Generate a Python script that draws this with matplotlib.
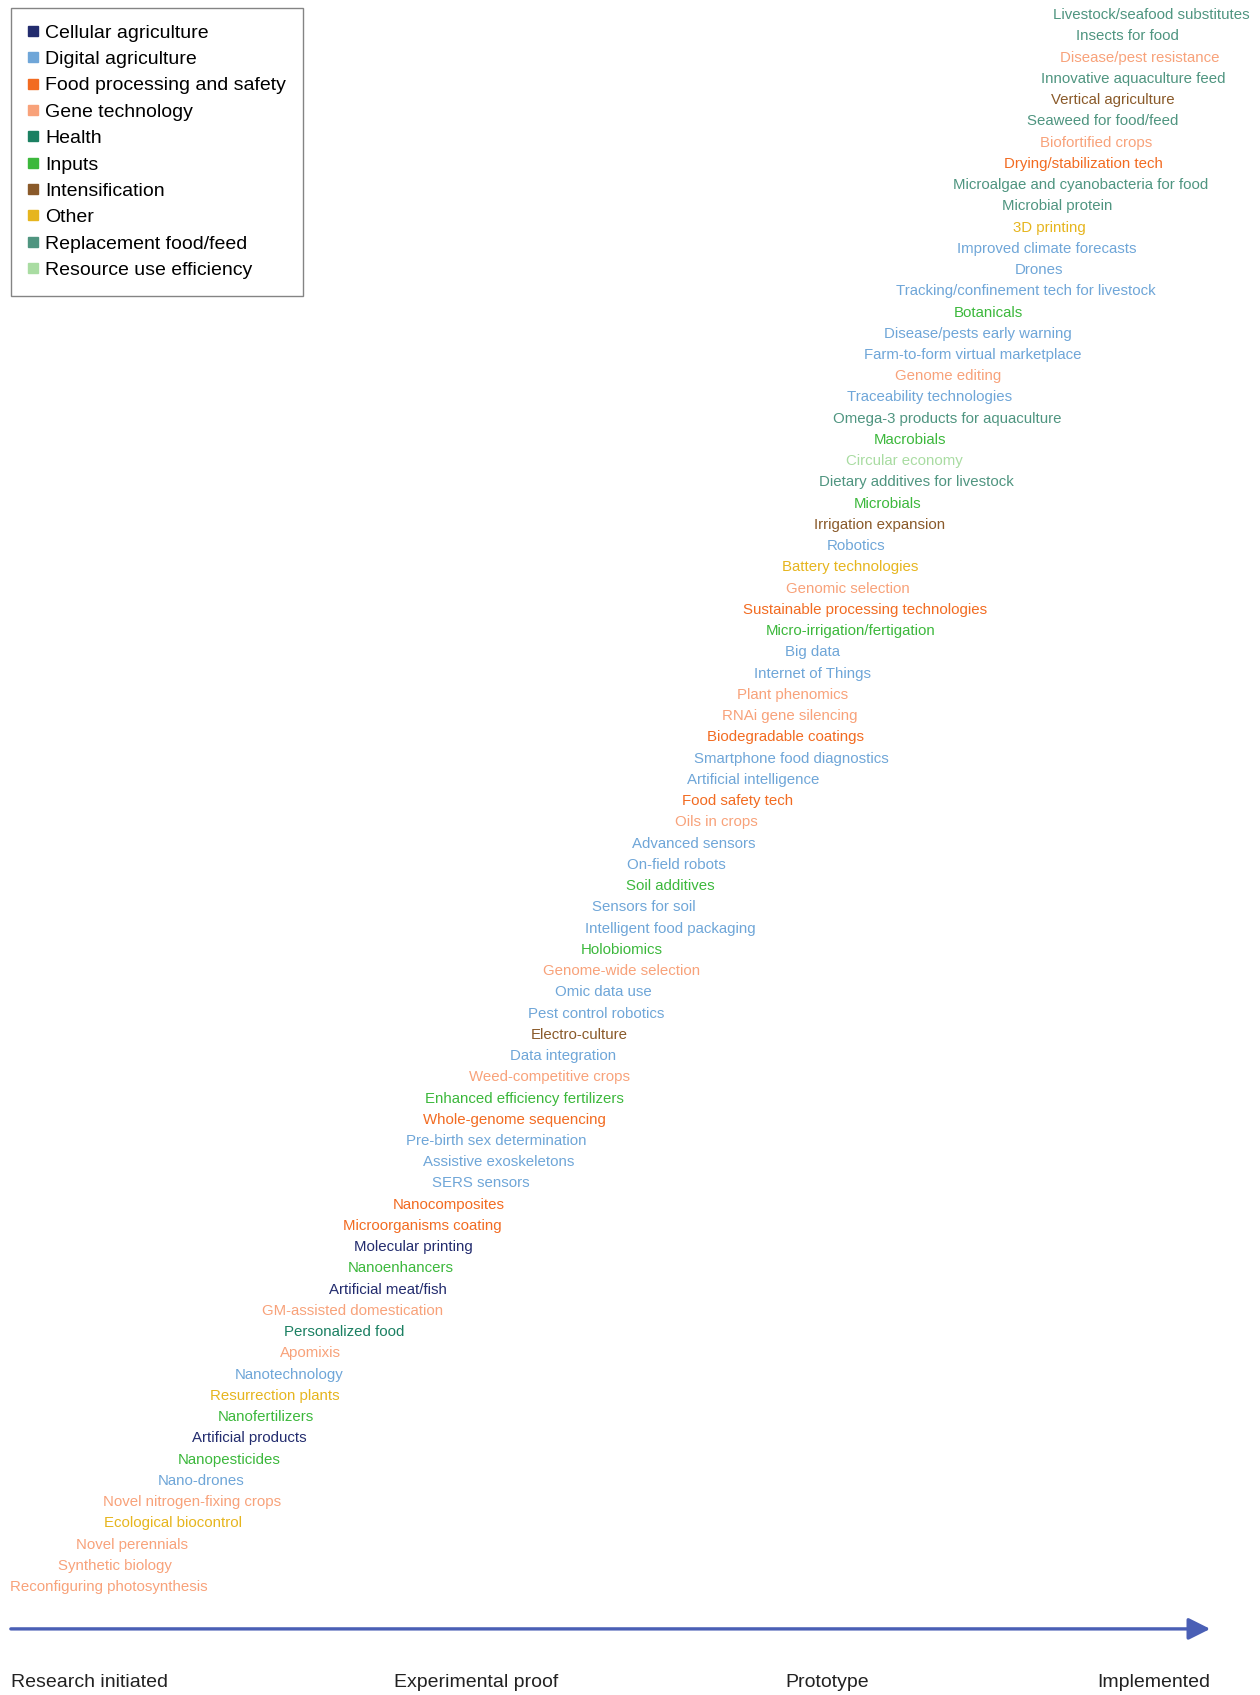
import matplotlib
matplotlib.use("Agg")
import matplotlib.pyplot as plt
from matplotlib.lines import Line2D

plt.rcParams['font.family'] = ['Liberation Sans', 'DejaVu Sans']

# categories and their colours (legend order)
categories = [
    "Cellular agriculture", "Digital agriculture", "Food processing and safety",
    "Gene technology", "Health", "Inputs", "Intensification", "Other",
    "Replacement food/feed", "Resource use efficiency",
]
category_colors = [
    "#232c6e", "#6fa6d8", "#f26b21", "#f8a27a", "#1b8062",
    "#3cb83c", "#8a5a2a", "#e6b51e", "#4f9580", "#a9dca2",
]

# technologies, top (most mature) to bottom
technologies = [
    "Livestock/seafood substitutes", "Insects for food", "Disease/pest resistance",
    "Innovative aquaculture feed", "Vertical agriculture", "Seaweed for food/feed",
    "Biofortified crops", "Drying/stabilization tech",
    "Microalgae and cyanobacteria for food", "Microbial protein", "3D printing",
    "Improved climate forecasts", "Drones", "Tracking/confinement tech for livestock",
    "Botanicals", "Disease/pests early warning", "Farm-to-form virtual marketplace",
    "Genome editing", "Traceability technologies", "Omega-3 products for aquaculture",
    "Macrobials", "Circular economy", "Dietary additives for livestock", "Microbials",
    "Irrigation expansion", "Robotics", "Battery technologies", "Genomic selection",
    "Sustainable processing technologies", "Micro-irrigation/fertigation", "Big data",
    "Internet of Things", "Plant phenomics", "RNAi gene silencing",
    "Biodegradable coatings", "Smartphone food diagnostics", "Artificial intelligence",
    "Food safety tech", "Oils in crops", "Advanced sensors", "On-field robots",
    "Soil additives", "Sensors for soil", "Intelligent food packaging", "Holobiomics",
    "Genome-wide selection", "Omic data use", "Pest control robotics", "Electro-culture",
    "Data integration", "Weed-competitive crops", "Enhanced efficiency fertilizers",
    "Whole-genome sequencing", "Pre-birth sex determination", "Assistive exoskeletons",
    "SERS sensors", "Nanocomposites", "Microorganisms coating", "Molecular printing",
    "Nanoenhancers", "Artificial meat/fish", "GM-assisted domestication",
    "Personalized food", "Apomixis", "Nanotechnology", "Resurrection plants",
    "Nanofertilizers", "Artificial products", "Nanopesticides", "Nano-drones",
    "Novel nitrogen-fixing crops", "Ecological biocontrol", "Novel perennials",
    "Synthetic biology", "Reconfiguring photosynthesis",
]

tech_category = [
    "Replacement food/feed", "Replacement food/feed", "Gene technology",
    "Replacement food/feed", "Intensification", "Replacement food/feed",
    "Gene technology", "Food processing and safety",
    "Replacement food/feed", "Replacement food/feed", "Other",
    "Digital agriculture", "Digital agriculture", "Digital agriculture",
    "Inputs", "Digital agriculture", "Digital agriculture",
    "Gene technology", "Digital agriculture", "Replacement food/feed",
    "Inputs", "Resource use efficiency", "Replacement food/feed", "Inputs",
    "Intensification", "Digital agriculture", "Other", "Gene technology",
    "Food processing and safety", "Inputs", "Digital agriculture",
    "Digital agriculture", "Gene technology", "Gene technology",
    "Food processing and safety", "Digital agriculture", "Digital agriculture",
    "Food processing and safety", "Gene technology", "Digital agriculture", "Digital agriculture",
    "Inputs", "Digital agriculture", "Digital agriculture", "Inputs",
    "Gene technology", "Digital agriculture", "Digital agriculture", "Intensification",
    "Digital agriculture", "Gene technology", "Inputs",
    "Food processing and safety", "Digital agriculture", "Digital agriculture",
    "Digital agriculture", "Food processing and safety", "Food processing and safety",
    "Cellular agriculture",
    "Inputs", "Cellular agriculture", "Gene technology",
    "Health", "Gene technology", "Digital agriculture", "Other",
    "Inputs", "Cellular agriculture", "Inputs", "Digital agriculture",
    "Gene technology", "Other", "Gene technology",
    "Gene technology", "Gene technology",
]

# maturity score (0 = research initiated, ~100 = implemented)
maturity = [
    95.1, 93.1, 94.1, 93.6, 91.9, 91.0, 90.5, 89.4, 89.2, 87.2,
    86.6, 86.4, 85.7, 84.6, 81.5, 80.6, 80.2, 78.1, 76.6, 78.1,
    75.0, 74.5, 75.5, 73.1, 72.4, 70.5, 70.0, 69.8, 71.2, 70.0,
    66.8, 66.8, 65.2, 64.9, 64.6, 65.1, 61.9, 60.6, 58.8, 56.9,
    55.5, 55.0, 52.8, 55.0, 50.9, 50.9, 49.4, 48.8, 47.4, 46.0,
    44.9, 42.8, 42.0, 40.5, 40.7, 39.2, 36.5, 34.3, 33.6, 32.5,
    31.4, 28.5, 27.8, 25.0, 23.2, 22.0, 21.3, 19.9, 18.2, 15.9,
    15.1, 13.5, 10.1, 8.7, 8.2,
]

stages = ["Research initiated", "Experimental proof", "Prototype", "Implemented"]
stage_pos = [0.0086, 0.313, 0.6235, 0.8705]

fig = plt.figure(figsize=(12.6, 16.95), dpi=100)
ax = fig.add_axes([0, 0, 1, 1])
ax.set_xlim(-0.9, 104.14)
ax.set_ylim(79.08, -0.712)
ax.axis('off')

color_of = dict(zip(categories, category_colors))
for i, (name, cat, x) in enumerate(zip(technologies, tech_category, maturity)):
    ax.text(x, i, name, color=color_of[cat], fontsize=10.8, ha='center', va='center')

# maturity arrow
ax.annotate('', xy=(0.9605, 0.039), xytext=(0.0086, 0.039), xycoords='axes fraction',
            arrowprops=dict(arrowstyle='-|>,head_length=0.6,head_width=0.3',
                            color='#4a5fb5', lw=2.4, mutation_scale=22,
                            shrinkA=0, shrinkB=0))

for s, x in zip(stages, stage_pos):
    ax.text(x, 0.0075, s, transform=ax.transAxes, ha='left', va='center',
            fontsize=14, color='#222222')

handles = [Line2D([], [], marker='s', linestyle='none', markersize=7, color=c)
           for c in category_colors]
leg = ax.legend(handles, categories, loc='upper left', bbox_to_anchor=(0.0086, 0.9955),
                fontsize=14, frameon=True, fancybox=False, edgecolor='#666666',
                borderpad=0.85, handletextpad=0.37, labelspacing=0.45,
                handlelength=0.55, borderaxespad=0)
leg.get_frame().set_linewidth(1.0)

fig.savefig("out.png", dpi=100)
